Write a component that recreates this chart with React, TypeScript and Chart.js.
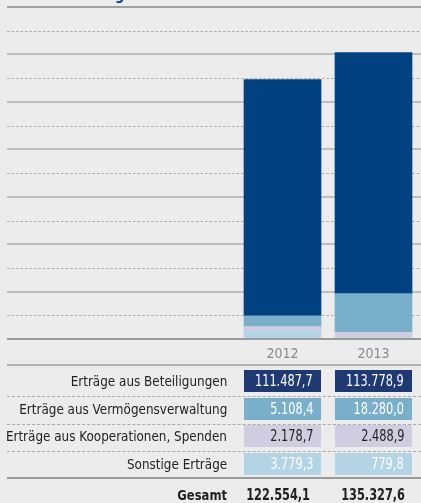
import React, { useEffect, useRef } from 'react';
import { Chart, registerables } from 'chart.js';
Chart.register(...registerables);

const titleText = 'Einnahmenentwicklung';
const years = ['2012', '2013'];
const seriesNames = [
  'Erträge aus Beteiligungen',
  'Erträge aus Vermögensverwaltung',
  'Erträge aus Kooperationen, Spenden',
  'Sonstige Erträge',
];
const beteiligungen = [111487.7, 113778.9];
const vermoegen = [5108.4, 18280.0];
const kooperationen = [2178.7, 2488.9];
const sonstige = [3779.3, 779.8];
const totalLabel = 'Gesamt';

const seriesValues = [beteiligungen, vermoegen, kooperationen, sonstige];
const barColors = ['#00427f', '#7aafcb', '#cfcee0', '#b3d4e5'];
const cellColors = ['#1f3a72', '#7aafcb', '#cfcee0', '#b3d4e5'];
const cellText = ['#ffffff', '#ffffff', '#222222', '#ffffff'];

const FONT = "'DejaVu Sans Condensed', 'Liberation Sans Narrow', 'Liberation Sans', sans-serif";

function fmt(v: number): string {
  const neg = v < 0;
  const fixed = Math.abs(v).toFixed(1);
  const [intPart, dec] = fixed.split('.');
  const withDots = intPart.replace(/\B(?=(\d{3})+(?!\d))/g, '.');
  return (neg ? '-' : '') + withDots + ',' + dec;
}

const totals = years.map((_, j) => seriesValues.reduce((s, arr) => s + arr[j], 0));

function Squeeze({ s, children }: { s: number; children: React.ReactNode }) {
  return (
    <span
      style={{
        display: 'inline-block',
        flex: 'none',
        transform: `scaleX(${s})`,
        transformOrigin: 'right center',
        whiteSpace: 'nowrap',
      }}
    >
      {children}
    </span>
  );
}

const rightBox = {
  display: 'flex',
  justifyContent: 'flex-end',
  alignItems: 'center',
  whiteSpace: 'nowrap' as const,
  boxSizing: 'border-box' as const,
};

export default function App() {
  const ref = useRef<HTMLCanvasElement>(null);

  useEffect(() => {
    if (!ref.current) return;
    const gridPlugin = {
      id: 'customGrid',
      beforeDatasetsDraw(chart: any) {
        const y = chart.scales.y;
        const ctx = chart.ctx;
        const w = chart.width;
        ctx.save();
        const n = y.ticks.length;
        y.ticks.forEach((t: any, i: number) => {
          if (i === 0) return;
          const py = Math.round(y.getPixelForValue(t.value));
          ctx.beginPath();
          if (i === n - 1) {
            ctx.setLineDash([]);
            ctx.strokeStyle = '#a0a0a0';
            ctx.lineWidth = 2;
            ctx.moveTo(7, py);
            ctx.lineTo(w, py);
          } else if (i % 2 === 0) {
            ctx.setLineDash([]);
            ctx.strokeStyle = '#bdbdbd';
            ctx.lineWidth = 2;
            ctx.moveTo(7, py);
            ctx.lineTo(w, py);
          } else {
            ctx.setLineDash([2.5, 2]);
            ctx.strokeStyle = '#acacac';
            ctx.lineWidth = 1;
            ctx.moveTo(7, py + 0.5);
            ctx.lineTo(w, py + 0.5);
          }
          ctx.stroke();
        });
        ctx.restore();
      },
      afterDatasetsDraw(chart: any) {
        const y = chart.scales.y;
        const ctx = chart.ctx;
        const py = Math.round(y.getPixelForValue(0));
        ctx.save();
        ctx.beginPath();
        ctx.strokeStyle = '#9a9a9a';
        ctx.lineWidth = 2;
        ctx.moveTo(7, py);
        ctx.lineTo(chart.width, py);
        ctx.stroke();
        ctx.restore();
      },
    };

    const stackOrder = [3, 2, 1, 0];
    const chart = new Chart(ref.current, {
      type: 'bar',
      data: {
        labels: years,
        datasets: stackOrder.map((k) => ({
          label: seriesNames[k],
          data: seriesValues[k],
          backgroundColor: barColors[k],
          borderWidth: 0,
          barThickness: 77,
        })),
      },
      options: {
        animation: false,
        responsive: false,
        devicePixelRatio: 1,
        layout: { padding: { top: 7, left: 237, right: 2, bottom: 2 } },
        plugins: { legend: { display: false }, tooltip: { enabled: false }, title: { display: false } },
        scales: {
          x: {
            stacked: true,
            grid: { display: false, drawTicks: false },
            border: { display: false },
            ticks: { color: '#8a8a8a', font: { family: FONT, size: 14 }, padding: 7 },
          },
          y: {
            stacked: true,
            display: false,
            min: 0,
            max: 156800,
            ticks: { stepSize: 11200 },
          },
        },
      },
      plugins: [gridPlugin],
    });
    return () => chart.destroy();
  }, []);

  const rowTop = (i: number) => 370 + i * 27.7;
  const cellRight = [8, 8];

  return (
    <div
      style={{
        position: 'fixed',
        left: 0,
        top: 0,
        width: 421,
        height: 503,
        background: '#ececec',
        overflow: 'hidden',
        fontFamily: FONT,
      }}
    >
      <div
        style={{
          position: 'absolute',
          right: 421 - 124,
          top: -12,
          fontSize: 14,
          lineHeight: '15px',
          fontWeight: 'bold',
          color: '#00427f',
          whiteSpace: 'nowrap',
          textAlign: 'right',
        }}
      >
        {titleText}
      </div>
      <canvas ref={ref} width={421} height={372} style={{ position: 'absolute', left: 0, top: 0 }} />
      <div style={{ position: 'absolute', left: 7, right: 0, top: 364, height: 1.5, background: '#b0b0b0' }} />
      {seriesNames.map((name, i) => (
        <React.Fragment key={name}>
          <div
            style={{
              ...rightBox,
              position: 'absolute',
              left: 0,
              width: 227,
              top: rowTop(i),
              height: 22,
              fontSize: 14,
              color: '#222',
            }}
          >
            <Squeeze s={0.953}>{name}</Squeeze>
          </div>
          {years.map((yr, j) => (
            <div
              key={yr}
              style={{
                ...rightBox,
                position: 'absolute',
                left: 244 + 91 * j,
                width: 77,
                top: rowTop(i),
                height: 22,
                background: cellColors[i],
                color: cellText[i],
                paddingRight: cellRight[j],
                fontSize: 15,
              }}
            >
              <Squeeze s={0.84}>{fmt(seriesValues[i][j])}</Squeeze>
            </div>
          ))}
          {i < seriesNames.length - 1 && (
            <div
              style={{
                position: 'absolute',
                left: 7,
                right: 0,
                top: rowTop(i) + 26,
                height: 0,
                borderTop: '1px dashed #aaaaaa',
              }}
            />
          )}
        </React.Fragment>
      ))}
      <div style={{ position: 'absolute', left: 7, right: 0, top: 477, height: 2, background: '#9a9a9a' }} />
      <div
        style={{
          ...rightBox,
          position: 'absolute',
          left: 0,
          width: 227,
          top: 484,
          height: 22,
          fontSize: 14,
          fontWeight: 'bold',
          color: '#222',
        }}
      >
        <Squeeze s={0.92}>{totalLabel}</Squeeze>
      </div>
      {years.map((yr, j) => (
        <div
          key={yr}
          style={{
            ...rightBox,
            position: 'absolute',
            left: 244 + 91 * j,
            width: 77,
            top: 484,
            height: 22,
            paddingRight: j === 0 ? 11 : 7,
            fontSize: 15,
            fontWeight: 'bold',
            color: '#222',
          }}
        >
          <Squeeze s={0.84}>{fmt(totals[j])}</Squeeze>
        </div>
      ))}
    </div>
  );
}
